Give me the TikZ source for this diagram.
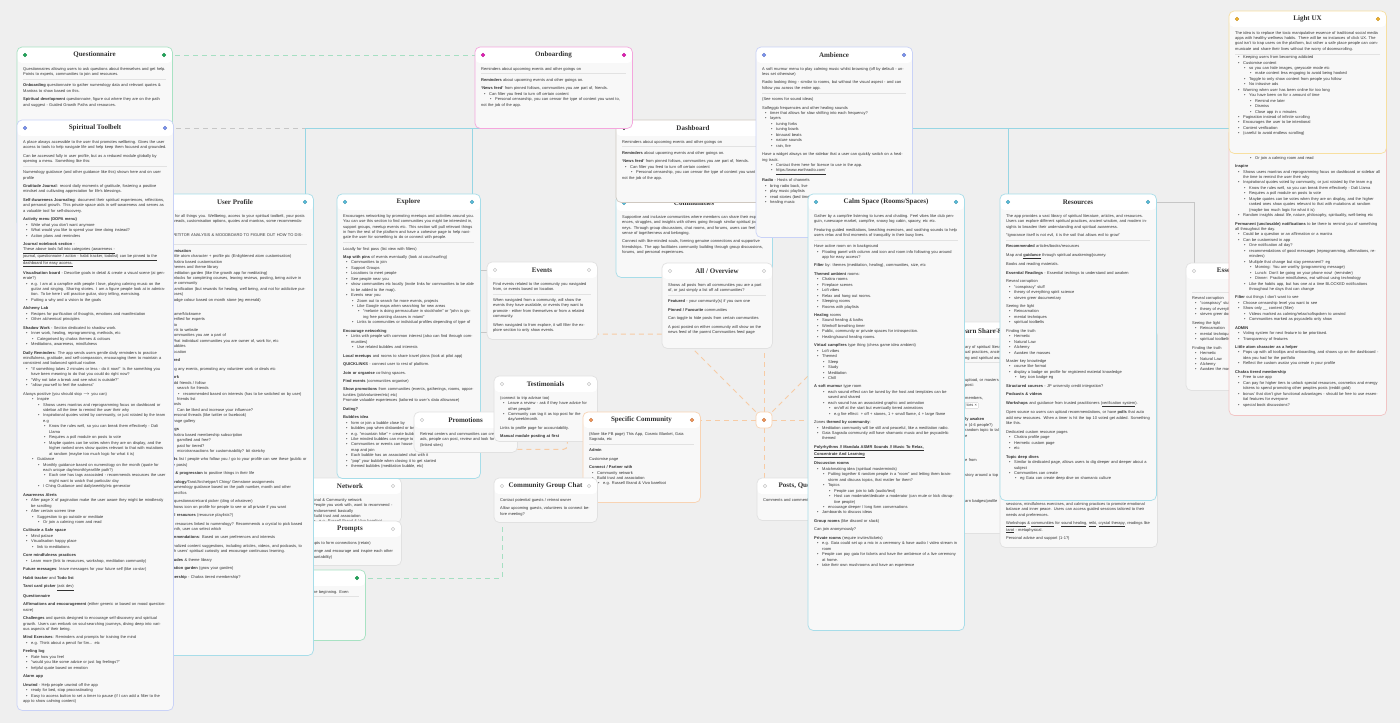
\documentclass[tikz,border=0pt]{standalone}
\usepackage{fontspec}
\setmainfont{Liberation Sans}
\newfontfamily\titlefont{Liberation Serif}
\usetikzlibrary{positioning}

\definecolor{bgc}{HTML}{EFEFEF}
\definecolor{cardbg}{HTML}{F8F8F8}
\definecolor{txt}{HTML}{333333}
\definecolor{rulec}{HTML}{E2E2E2}
\definecolor{greenb}{HTML}{A8E2C3}
\definecolor{greendot}{HTML}{1FA85A}
\definecolor{blueb}{HTML}{C9D2F7}
\definecolor{bluedot}{HTML}{7C95F2}
\definecolor{cyanb}{HTML}{A7DDE9}
\definecolor{cyandot}{HTML}{58BEDC}
\definecolor{pinkb}{HTML}{F4A6DD}
\definecolor{pinkdot}{HTML}{E41DB5}
\definecolor{yellowb}{HTML}{F7DFA0}
\definecolor{yellowdot}{HTML}{F4B32A}
\definecolor{orangeb}{HTML}{F8D3B3}
\definecolor{orangedot}{HTML}{F3975A}
\definecolor{redb}{HTML}{F2C4C4}
\definecolor{greyb}{HTML}{E1E1E1}
\definecolor{ghost}{HTML}{F4F4F4}
\definecolor{dashb}{HTML}{CFC8C0}
\definecolor{dashdot}{HTML}{505050}
\definecolor{cyanline}{HTML}{97D6E4}
\definecolor{greyline}{HTML}{C6C6C6}
\definecolor{greenline}{HTML}{A5DFC2}
\definecolor{orangeline}{HTML}{F7CBA4}

\pgfdeclarelayer{bg}
\pgfsetlayers{bg,main}

\newcommand\bodyfont{\fontsize{4}{5.45}\selectfont}
% list item, optional indent in pt
\newcommand\li[2][3]{\par\vspace{-\parskip}\hangindent=\dimexpr#1pt+5pt\relax\hangafter=1\noindent\hspace*{#1pt}\makebox[5pt][l]{\textbullet}#2}
\newcommand\hr{\par\vspace{2.5pt}{\color{rulec}\hrule height .4pt}\vspace{1.5pt}}
% name, x, y, width, height, border, dot colour, title, body
\newcommand\card[9]{%
  \pgfmathsetmacro\cardw{#4-12}%
  \node[cardbox, minimum width=#4pt, minimum height=#5pt] (#1) at (#2,#3) {};
  \draw[draw=#6, line width=.7pt, rounded corners=5pt] (#1.north west) rectangle (#1.south east);
  \node[hdot=#7] (#1-l) at (#2+8,#3+8) {};
  \node[hdot=#7] (#1-r) at (#2+#4-8,#3+8) {};
  \node[cardtitle] (#1-t) at (#2+#4/2,#3+8) {#8};
  \begin{scope}
    \clip[rounded corners=5pt] (#1.north west) rectangle (#1.south east);
    \node[cardbody, text width=\cardw pt] (#1-b) at (#2+6,#3+20) {#9};
  \end{scope}
}

\begin{document}
\begin{tikzpicture}[x=1pt, y=-1pt,
    cardbox/.style={anchor=north west, rectangle, rounded corners=5pt, fill=cardbg, inner sep=0pt,
      path picture={\fill[white] (path picture bounding box.north west) rectangle ([yshift=-16pt]path picture bounding box.north east);}},
    hdot/.style={circle, inner sep=0pt, minimum size=3.8pt, fill=#1, draw=#1!80!black, line width=.3pt},
    cardtitle/.style={inner sep=0pt, text=txt, font={\titlefont\fontsize{7}{8}\selectfont\bfseries}},
    cardbody/.style={anchor=north west, inner sep=0pt, align=left, text=txt, font=\bodyfont,
      execute at begin node={\setlength{\parskip}{3pt}}},
    hubbox/.style={rectangle, rounded corners=4pt, minimum size=16pt, fill=white, draw=orangeb, line width=.7pt},
    cyanlink/.style={draw=cyanline, line width=.9pt},
    greylink/.style={draw=greyline, line width=.8pt},
    greydash/.style={draw=greyline, line width=.9pt, dash pattern=on 5pt off 4pt},
    greendash/.style={draw=greenline, line width=.9pt, dash pattern=on 5pt off 4pt},
    orangedash/.style={draw=orangeline, line width=1pt, dash pattern=on 5pt off 4pt}]

\useasboundingbox (0,0) rectangle (1400,723);
\begin{pgfonlayer}{bg}
  \fill[bgc] (0,0) rectangle (1400,723);
\end{pgfonlayer}

% left column
\card{quest}{17}{47}{155}{180}{greenb}{greendot}{Questionnaire}{%
Questionnaires allowing users to ask questions about themselves and get help. Points to experts, communities to join and resources.
\hr
\textbf{Onboarding} questionnaire to gather numerology data and relevant quotes \& Mantras to show based on this.

\textbf{Spiritual development} questionnaire, figure out where they are on the path and suggest - Guided Growth Paths and resources.}

\card{gc}{209}{570}{156}{70}{greenb}{greendot}{}{%
Guides and prompts to help new users find a way for the beginning. Even
\hr
}

\card{net}{299}{478}{102}{44}{greyb}{ghost}{Network}{%
Personal \& Community network
\li{People you work with, want to recommend - endorsement basically}
\li{Build trust and association}
\li[9]{e.g. Russell Brand \& Vivo barefoot}}

\card{pr}{299}{521}{102}{44}{greyb}{ghost}{Prompts}{%
Prompts to form connections (retain)

Challenge and encourage and inspire each other (accountability)}

\card{up}{157}{194}{156}{461}{cyanb}{cyandot}{User Profile}{%
A hub for all things you. Wellbeing, access to your spiritual toolbelt, your posts and threads, customisation options, quotes and mantras, some recommendations.

COMPETITOR ANALYSIS \& MOODBOARD TO FIGURE OUT HOW TO DISPLAY
\hr
\textbf{Customisation}
\li{Little atom character + profile pic (Enlightened atom customisation)}
\li{Chakra based customisation}
\li{Themes and theme library}
\li{Meditation garden (like the growth app for meditating)}
\li{Unlocks for completing courses, leaving reviews, posting, being active in the community}
\li{Gamification (but rewards for healing, well being, and not for addictive purposes)}
\li{Badge colour based on month stone (eg emerald)}

\textbf{Info}
\li{Name/Nickname}
\li{Verified for experts}
\li{Bio}
\li{Link to website}
\li{Communities you are a part of}
\li{What individual communities you are owner of, work for, etc}
\li{Bubbles}
\li{Location}

\textbf{Featured}

Hosting any events, promoting any volunteer work or deals etc

\textbf{Network}
\li{Add friends / follow}
\li[9]{search for friends}
\li[15]{recommended based on interests (has to be switched on by user)}
\li[9]{friends list}
\li{Posts}
\li[9]{Can be liked and increase your influence?}
\li{Personal threads (like twitter or facebook)}
\li{Image gallery}

\textbf{Settings}
\li{Chakra based membership subscription}
\li[9]{gamified and free?}
\li[9]{paid for tiered?}
\li[9]{microtransactions for customisability? bit sketchy}

\textbf{Friends} list / people who follow you / go to your profile can see these (public or private posts)

\textbf{Steps \& progression} to positive things in their life

\textbf{Numerology}/Tarot/Archetype/I Ching/ Gemstone assignments
\li{Numerology guidance based on the path number, month and other specifics}

\textbf{Daily} questionnaire/card picker (ding of whatever)
\li{Shows icon on profile for people to see or all private if you want}

\textbf{Useful resources} (resource playlists?)

Visual resources linked to numerology? Recommends a crystal to pick based on month, user can select which

\textbf{Recommendations}: Based on user preferences and interests

Personalized content suggestions, including articles, videos, and podcasts, to nourish users' spiritual curiosity and encourage continuous learning.

\textbf{Gratitudes} \& theme library

\textbf{Meditation garden} (grow your garden)

\textbf{Membership} - Chakra tiered membership?}

\card{tool}{17}{120}{156}{590}{blueb}{bluedot}{Spiritual Toolbelt}{%
A place always accessible to the user that promotes wellbeing. Gives the user access to tools to help navigate life and help keep them focused and grounded.

Can be accessed fully in user profile, but as a reduced module globally by opening a menu. Something like this:
\hr
Numerology guidance (and other guidance like this) shown here and on user profile

\textbf{Gratitude Journal}: record daily moments of gratitude, fostering a positive mindset and cultivating appreciation for life's blessings.

\textbf{Self-Awareness Journaling}: document their spiritual experiences, reflections, and personal growth. This private space aids in self-awareness and serves as a valuable tool for self-discovery.

\textbf{Activity menu (DOPA menu)}
\li{Write what you don't want anymore}
\li{What would you like to spend your time doing instead?}
\li{Action plans and reminders}

\textbf{Journal notebook section} - \underline{These above tools fall into categories (awareness -} \underline{journal, questionnaire / action - habit tracker, todolist) can be pinned to the} \underline{dashboard for easy access.}

\textbf{Visualisation board} - Describe goals in detail \& create a visual scene (ai generate?)
\li{e.g. I am at a campfire with people I love, playing calming music on the guitar and singing. Sharing stories. I am a figure people look at in admiration. To be here I will practice guitar, story telling, exercising.}
\li{Putting a why and a vision to the goals}

\textbf{Alchemy Lab}
\li{Recipes for purification of thoughts, emotions and manifestation}
\li{Other alchemical principles}

\textbf{Shadow Work} - Section dedicated to shadow work.
\li{Inner work, healing, reprogramming, methods, etc}
\li[9]{Categorised by chakra themes \& colours}
\li{Meditations, awareness, mindfulness}

\textbf{Daily Reminders}: The app sends users gentle daily reminders to practice mindfulness, gratitude, and self-compassion, encouraging them to maintain a consistent and balanced spiritual routine.
\li{``If something takes 2 minutes or less - do it now!'' Is the something you have been meaning to do that you could do right now?}
\li{``Why not take a break and see what is outside?''}
\li{``allow yourself to feel the sadness''}

Always positive (you should stop $\rightarrow$ you can)
\li[9]{Inspire}
\li[15]{Shows users mantras and reprogramming focus on dashboard or sidebar all the time to remind the user their why}
\li[15]{Inspirational quotes voted by community, or just rotated by the team e.g}
\li[21]{Know the rules well, so you can break them effectively - Dali Llama}
\li[21]{Requires a poll module on posts to vote}
\li[21]{Maybe quotes can be votes when they are on display, and the higher ranked ones show quotes relevant to that with mutations at random (maybe too much logic for what it is)}
\li[9]{Guidance}
\li[15]{Monthly guidance based on numerology on the month (quote for each unique day/month/year/life path?)}
\li[21]{Each one has tags associated - recommends resources the user might want to watch that particular day}
\li[15]{I Ching Guidance and daily/weekly/etc generator}

\textbf{Awareness Alerts}
\li{After page X of pagination make the user aware they might be mindlessly be scrolling}
\li{After certain screen time}
\li[9]{Suggestion to go outside or meditate}
\li[15]{Or join a calming room and read}

\textbf{Cultivate a Safe space}
\li{Mind palace}
\li{Visualisation happy place}
\li[9]{link to meditations}

\textbf{Core mindfulness practices}
\li{Learn more (link to resources, workshop, meditation community)}

\textbf{Future messages}: leave messages for your future self (like co-star)

\textbf{Habit tracker} and \textbf{Todo list}

\textbf{Tarot card picker} \underline{(ask dev)}

\textbf{Questionnaire}

\textbf{Affirmations and encouragement} (either generic or based on mood questionnaire)

\textbf{Challenges} and quests designed to encourage self-discovery and spiritual growth. Users can embark on soul-searching journeys, diving deep into various aspects of their being.

\textbf{Mind Exercises}: Reminders and prompts for training the mind
\li{e.g. Think about a pencil for 5m... etc}

\textbf{Feeling log}
\li{Rate how you feel}
\li{``would you like some advice or just log feelings?''}
\li{helpful quote based on emotion}

\textbf{Alarm app}

\textbf{Unwind} - Help people unwind off the app
\li{ready for bed, stop procrastinating}
\li{Easy to access button to set a timer to pause (if I can add a filter to the app to show calming content)}}

% middle
\card{ex}{337}{194}{143}{284}{cyanb}{cyandot}{Explore}{%
Encourages networking by promoting meetups and activities around you. You can use this section to find communities you might be interested in, support groups, meetup events etc. This section will pull relevant things in from the rest of the platform and have a cohesive page to help navigate the user for something to do or connect with people.
\hr
Locally for first pass (list view with filters)

\textbf{Map with pins} of events eventually (look at couchsurfing)
\li{Communities to join}
\li{Support Groups}
\li{Locations to meet people}
\li{See people near you}
\li{show communities etc locally (invite links for communities to be able to be added to the map).}
\li{Events near you}
\li[9]{Zoom out to search for more events, projects}
\li[9]{Like Google maps when searching for new areas}
\li[15]{``melanie is doing permaculture in stockholm'' or ``john is giving free painting classes in miami''}
\li[9]{Links to communities or individual profiles depending of type of}

\textbf{Encourage networking}
\li{Links with people with common interest (also can find through communities)}
\li[9]{Use related bubbles and interests}

\textbf{Local meetups} and rooms to share travel plans (look at pilot app)

\textbf{QUICKLINKS} - connect user to rest of platform.

\textbf{Join or organise} co-living spaces.

\textbf{Find events} (communities organise)

\textbf{Show promotions} from communities (events, gatherings, rooms, opportunities (job/volunteer/etc) etc)\\
Promote valuable experiences (tailored to user's data allowance)

\textbf{Dating?}

\textbf{Bubbles idea}
\li{form or join a bubble close by}
\li{bubbles pop when disbanded or begin}
\li{e.g. ``mountain hike'' + create bubble}
\li{Like minded bubbles can merge to form one}
\li{Communities or events can house a bubble for people to see on the map and join}
\li{Each bubble has an associated chat with it}
\li{``pop'' your bubble when closing it to get started}
\li{themed bubbles (meditation bubble, etc)}}

\card{pro}{414}{412}{103}{40}{greyb}{ghost}{Promotions}{%
Retreat centers and communities can create ads, people can post, review and look for places (linked sites)}

\card{te}{494}{376}{103}{65}{greyb}{ghost}{Testimonials}{%
(connect to trip advisor too)
\li{Leave a review - ask if they have advice for other people}
\li{Community can tag it as top post for the day/week/month.}

Links to profile page for accountability.

\textbf{Manual module posting at first}}

\card{sc}{583}{412}{117}{90}{orangeb}{orangedot}{Specific Community}{%
(More like FB page) This App, Cosmic Blanket, Gaia Sagrada, etc
\hr
\textbf{Admin}

Customise page

\textbf{Connect / Partner with}
\li{Community network}
\li{Build trust and association}
\li[9]{e.g. Russell Brand \& Vivo barefoot}}

\card{cgc}{494}{478}{103}{44}{greyb}{ghost}{Community Group Chat}{%
Contact potential guests / retreat owner

Allow upcoming guests, volunteers to connect before meeting?}

\card{ev}{487}{262}{110}{77}{greyb}{ghost}{Events}{%
Find events related to the community you navigated from, or events based on location.
\hr
When navigated from a community, will show the events they have available, or events they want to promote - either from themselves or from a related community.

When navigated to from explore, it will filter the explore section to only show events.}

\card{comm}{616}{195}{156}{82}{cyanb}{cyandot}{Communities}{%
Supportive and inclusive communities where members can share their experiences, struggles, and insights with others going through similar spiritual journeys. Through group discussions, chat rooms, and forums, users can feel a sense of togetherness and belonging.

Connect with like-minded souls, forming genuine connections and supportive friendships. The app facilitates community building through group discussions, forums, and personal experiences.}

\card{dash}{616}{120}{154}{82}{dashb}{dashdot}{Dashboard}{%
Reminders about upcoming events and other goings on
\hr
\textbf{Reminders} about upcoming events and other goings on.

\textbf{`News feed'} from pinned follows, communities you are part of, friends.
\li{Can filter you feed to turn off certain content}
\li[9]{Personal censorship, you can censor the type of content you want to, not the job of the app.}}

\card{onb}{475}{47}{157}{81}{pinkb}{pinkdot}{Onboarding}{%
Reminders about upcoming events and other goings on
\hr
\textbf{Reminders} about upcoming events and other goings on.

\textbf{`News feed'} from pinned follows, communities you are part of, friends.
\li{Can filter you feed to turn off certain content}
\li[9]{Personal censorship, you can censor the type of content you want to, not the job of the app.}}

\card{amb}{756}{47}{156}{190}{blueb}{bluedot}{Ambience}{%
A soft murmur menu to play calming music whilst browsing (off by default - unless set otherwise)

Radio looking thing - similar to rooms, but without the visual aspect - and can follow you across the entire app.
\hr
(See rooms for sound ideas)

Solfeggio frequencies and other healing sounds
\li{timer that allows for slow shifting into each frequency?}
\li{layers}
\li[9]{tuning forks}
\li[9]{tuning bowls}
\li[9]{binaural beats}
\li[9]{nature sounds}
\li[9]{rain, fire}

Have a widget always on the sidebar that a user can quickly switch on a healing track.
\li[9]{Contact them here for licence to use in the app.}
\li[9]{\underline{https://www.earthradio.com/}}

\textbf{Radio} - Hosts of channels
\li{bring radio back, live}
\li{play music playlists}
\li{read stories (bed time}
\li{healing music}}

\card{allov}{662}{263}{110}{85}{greyb}{ghost}{All / Overview}{%
Shows all posts from all communities you are a part of, or just simply a list off all communities?
\hr
\textbf{Featured} - your community(s) if you own one

\textbf{Pinned / Favourite} communities

Can toggle to hide posts from certain communities

A post posted on either community will show on the news feed of the parent Communities feed page}

\card{posts}{757}{478}{92}{42}{greyb}{ghost}{Posts, Questions}{%
Comments and comment threads}

% right
\card{learn}{913}{322}{92}{211}{greyb}{ghost}{}{}
\node[cardtitle, anchor=west] (learn-t2) at (958,331) {Learn Share \&};
\node[cardbody, text width=40pt] (learn-c) at (965,345) {%
ary of spiritual literat\\ual practices, ancien\\ng and spiritual awa
\hr\vspace{11pt}
upload, or masters of\\post:\\[7pt]members,\\[2pt]{\fboxsep=1pt\fboxrule=.4pt\fcolorbox{greyb}{white}{tors ×}}\\[9pt]\textbf{ly awaken}\\n (4-6 people?)\\random topic to tal\\e\\[19pt]e from\\[9pt]story around a top\\[21pt]arn badges/profile};

\card{heal}{1000}{330}{157}{217}{greyb}{ghost}{}{}
\node[cardbody, text width=145pt] (heal-c) at (1006,502) {%
sessions, mindfulness exercises, and calming practices to promote emotional balance and inner peace. Users can access guided sessions tailored to their needs and preferences.

\underline{Workshops} \& \underline{communities} for \underline{sound healing}, \underline{reiki}, \underline{crystal therapy}, readings like \underline{tarot} - metaphysical.

Personal advise and support (1-1?)};

\card{cs}{808}{194}{156}{436}{cyanb}{cyandot}{Calm Space (Rooms/Spaces)}{%
Gather by a campfire listening to tunes and chatting. Feel vibes like club penguin, runescape market, campfire, snowy log cabin, spacey, etc etc.

Featuring guided meditations, breathing exercises, and soothing sounds to help users relax and find moments of tranquility in their busy lives.
\hr
Have active room on in background
\li{Floating panel with column and icon and room info following you around app for easy access?}

\textbf{Filter} by: themes (meditation, healing), communities, size, etc

\textbf{Themed ambient} rooms:
\li{Chakra rooms}
\li{Fireplace scenes}
\li{Lofi vibes}
\li{Relax and hang out rooms.}
\li{Sleeping rooms}
\li{Rooms with playlists}

\textbf{Healing} rooms
\li{Sound healing \& baths}
\li{Wimhoff breathing timer}
\li{Public, community or private spaces for introspection.}
\li{Healing/sound healing rooms.}

\textbf{Virtual campfires} type thing (chess game idea ambient)
\li{Lofi vibes}
\li{Themed}
\li[9]{Sleep}
\li[9]{Study}
\li[9]{Meditation}
\li[9]{Chill}

\textbf{A soft murmur} type room
\li[9]{each sound effect can be tuned by the host and templates can be saved and shared}
\li[9]{each sound has an associated graphic and animation}
\li[15]{on/off at the start but eventually tiered animations}
\li[15]{e.g fire effect: + off + stones, 1 + small flame, 4 + large flame}

Zones \textbf{themed by community}:
\li{Meditation community will be still and peaceful, like a meditation radio.}
\li{Gaia Sagrada community will have shamanic music and be psycadelic themed}

\textbf{\underline{Polyrhythms // Mandala ASMR Sounds // Music To Relax,}} \textbf{\underline{Concentrate And Learning}}

\textbf{Discussion rooms}
\li{Matchmaking idea (spiritual masterminds)}
\li[9]{Putting together 6 random people in a ``room'' and letting them brainstorm and discuss topics, that matter for them?}
\li[9]{Topics}
\li[15]{People can join to talk (audio/text)}
\li[15]{Host can moderate/dedicate a moderator (can mute or kick disruptive people)}
\li[9]{encourage deeper / long form conversations}
\li{Jamboards to discuss ideas}

\textbf{Group rooms} (like discord or slack)

Can join anonymously?

\textbf{Private rooms} (require invites/tickets)
\li{e.g. Gaia could set up a mic in a ceremony \& have audio / video stream in room}
\li{People can pay gaia for tickets and have the ambience of a live ceremony at home.}
\li{take their own mushrooms and have an experience}}

\card{res}{1000}{194}{156}{306}{cyanb}{cyandot}{Resources}{%
The app provides a vast library of spiritual literature, articles, and resources. Users can explore different spiritual practices, ancient wisdom, and modern insights to broaden their understanding and spiritual awareness.

``Ignorance itself is not evil, it is the soil that allows evil to grow''
\hr
\textbf{Recommended} articles/books/resources

Map and \textbf{\underline{guidance}} through spiritual awakening/journey.

Books and reading materials.

\textbf{Essential Readings} - Essential techings to understand and awaken

Reveal corruption
\li{``conspiracy'' stuff}
\li{theory of everything spirit science}
\li{steven greer documentary}

Seeing the light
\li{Reincarnation}
\li{mental techniques}
\li{spiritual toolbelts}

Finding the truth
\li{Hermetic}
\li{Natural Law}
\li{Alchemy}
\li{Awaken the masses}

Master key knowledge
\li{course like format}
\li{display a badge on profile for registered material knowledge}
\li[9]{key icon badge eg}

\textbf{Structured courses} - JP university credit integration?

\textbf{Podcasts \& videos}

\textbf{Workshops} and guidance from trusted practitioners (\underline{verification system}).

Open source so users can upload recommendations, or have \textbf{polls} that auto add new resources. When a timer is hit the top 10 voted get added. Something like this.

Dedicated custom resource pages
\li{Chakra profile page}
\li{Hermetic custom page}
\li{etc}

\textbf{Topic deep dives}
\li{Similar to dedicated page, allows users to dig deeper and deeper about a subject}
\li{Communities can create}
\li[9]{eg Gaia can create deep dive on shamanic culture}}

\card{ess}{1186}{263}{118}{127}{greyb}{ghost}{Essential Readings}{%
\mbox{}\par\vspace{6pt}\hr
Reveal corruption
\li{``conspiracy'' stuff}
\li{theory of everything}
\li{steven greer documentary}

Seeing the light
\li{Reincarnation}
\li{mental techniques}
\li{spiritual toolbelts}

Finding the truth
\li{Hermetic}
\li{Natural Law}
\li{Alchemy}
\li{Awaken the masses}}

\card{pink}{1229}{128}{157}{287}{redb}{redb}{}{%
\li[9]{Suggestion to go outside or meditate}
\li[15]{Or join a calming room and read}

\textbf{Inspire}
\li{Shows users mantras and reprogramming focus on dashboard or sidebar all the time to remind the user their why}
\li{Inspirational quotes voted by community, or just rotated by the team e.g}
\li[9]{Know the rules well, so you can break them effectively - Dali Llama}
\li[9]{Requires a poll module on posts to vote}
\li[9]{Maybe quotes can be votes when they are on display, and the higher ranked ones show quotes relevant to that with mutations at random (maybe too much logic for what it is)}
\li{Random insights about life, nature, philosophy, spirituality, well-being etc}

\textbf{Permanent (unclosable) notifications} to be there to remind you of something all throughout the day.
\li{Could be a question or an affirmation or a mantra}
\li{Can be customised in app}
\li[9]{One notification all day?}
\li[9]{recommendations of good messages (reprogramming, affirmations, reminders)}
\li[9]{Multiple that change but stay permanent? eg}
\li[15]{Morning: You are worthy (programming message)}
\li[15]{Lunch: Don't be going on your phone now! (reminder)}
\li[15]{Dinner: Practice mindfulness, eat without using technology}
\li[9]{Like the habits app, but has one at a time BLOCKED notifications throughout he days that can change}

\textbf{Filter} out things I don't want to see
\li{Choose censorship level you want to see}
\li{Show only \_\_ content (filter)}
\li[9]{Videos marked as calming/relax/softspoken to unwind}
\li[9]{Communities marked as psycadelic only show}

\textbf{ADMIN}
\li{Voting system for next feature to be prioritised.}
\li{Transparency of features}

\textbf{Little atom character as a helper}
\li{Pops up with all tooltips and onboarding, and shows up on the dashboard - idea you had for the portfolio}
\li{Reflect the custom avatar you create in your profile}

\textbf{Chakra tiered membership}
\li{Free to use app}
\li{Can pay for higher tiers to unlock special resources, cosmetics and energy tokens to spend promoting other peoples posts (reddit gold)}
\li{bonus' that don't give functional advantages - should be free to use essential features for everyone}
\li{special book discussions?}}

\card{lux}{1229}{11}{157}{142}{yellowb}{yellowdot}{Light UX}{%
The idea is to replace the toxic manipulative essence of traditional social media apps with healthy wellness habits. There will be no instances of click UX. The goal isn't to trap users on the platform, but rather a safe place people can communicate and share their lives without the worry of doomscrolling.
\hr
\li{Keeping users from becoming addicted}
\li{Customise content}
\li[9]{so you can hide images, greyscale mode etc}
\li[15]{make content less engaging to avoid being hooked}
\li[9]{Toggle to only show content from people you follow}
\li[9]{No intrusive ads}
\li{Warning when user has been online for too long}
\li[9]{You have been on for x amount of time}
\li[15]{Remind me later}
\li[15]{Dismiss}
\li[15]{Close app in x minutes}
\li{Pagination instead of infinite scrolling}
\li{Encourages the user to be intentional}
\li{Content verification}
\li{(careful to avoid endless scrolling)}}

% hub
\node[hubbox] (hub) at (764,420) {};
\node[hdot=orangedot] (hub-c) at (hub) {};
\coordinate (ev-j) at (678,334);
\coordinate (ev-q) at (487,332);
\coordinate (cs-in) at (814,370);

% connectors
\begin{pgfonlayer}{bg}
  \draw[greendash] (quest-r) -- (onb-l);
  \draw[greydash] (tool-r) -- (up-r |- tool-r);
  \draw[cyanlink] (up-r) |- (lux.west |- tool-r);
  \foreach \source in {ex-r, res-l}
    \draw[cyanlink] (\source) -- (\source |- tool-r);
  \draw[greylink] (res-r) -| (ess-l);
  \draw[greylink] (ev-l) -- (ev-l -| ex.east);
  \draw[greylink] (ev-q) -- (ev-q -| ex.east);
  \draw[greendash] (gc-r) -| (cgc-l |- cgc.south);
  \foreach \dest in {sc-r, cs-in, hub |- allov.south, hub |- posts.north, cs.west |- hub}
    \draw[orangedash] (hub) -- (\dest);
  \draw[orangedash] (hub) -- (ev-j) -- (ev-j -| ev.east);
  \draw[orangedash, rounded corners=4pt] ([yshift=3pt]pro.south east) -| ([xshift=-30pt]te.south east);
\end{pgfonlayer}
\end{tikzpicture}
\end{document}
